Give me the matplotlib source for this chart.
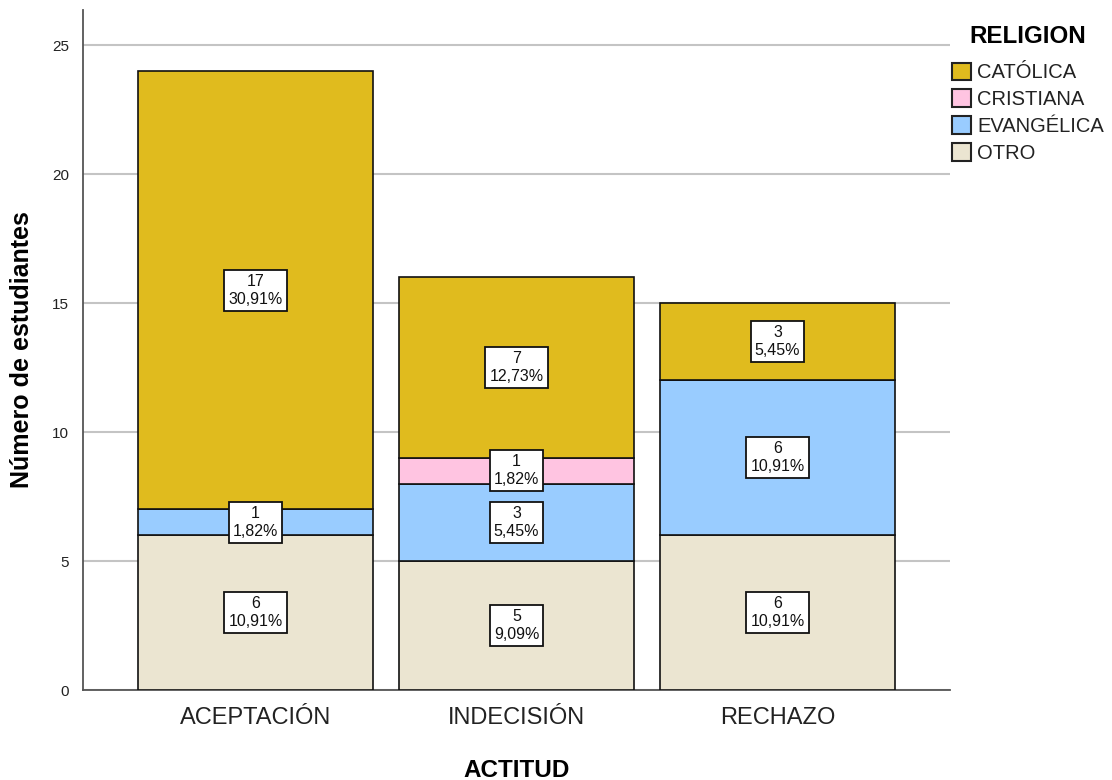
import matplotlib
matplotlib.use("Agg")
import matplotlib.pyplot as plt
from matplotlib.patches import Patch

plt.rcParams['font.family'] = ['Liberation Sans', 'DejaVu Sans']

categories = ["ACEPTACIÓN", "INDECISIÓN", "RECHAZO"]
series_names = ["OTRO", "EVANGÉLICA", "CRISTIANA", "CATÓLICA"]
otro = [6, 5, 6]
evangelica = [1, 3, 6]
cristiana = [0, 1, 0]
catolica = [17, 7, 3]
series_values = [otro, evangelica, cristiana, catolica]
colors = ["#EBE5D1", "#99CCFF", "#FFC4E1", "#E0BB1E"]
yticks = [0, 5, 10, 15, 20, 25]

total = sum(sum(s) for s in series_values)

fig = plt.figure(figsize=(11.12, 7.8), dpi=100)
ax = fig.add_axes([83/1112, 1-690/780, (950-83)/1112, (690-10)/780])

x = list(range(len(categories)))
bottom = [0]*len(categories)
handles = {}
for name, vals, col in zip(series_names, series_values, colors):
    ax.bar(x, vals, width=0.9, bottom=bottom, color=col,
           edgecolor="#111111", linewidth=1.2, zorder=3)
    handles[name] = Patch(facecolor=col, edgecolor="#222222", linewidth=1.5)
    for xi, v, b in zip(x, vals, bottom):
        if v > 0:
            pct = f"{100*v/total:.2f}".replace(".", ",")
            ax.text(xi, b + v/2, f"{v}\n{pct}%", ha="center", va="center",
                    fontsize=11.5, linespacing=1.25, zorder=5, color="#111111",
                    bbox=dict(boxstyle="square,pad=0.25", facecolor="white",
                              edgecolor="#111111", linewidth=1.3))
    bottom = [b + v for b, v in zip(bottom, vals)]

ax.set_xlim(-0.661, 2.661)
ax.set_ylim(0, 26.36)
ax.set_yticks(yticks)
ax.set_xticks(x)
ax.set_xticklabels(categories, fontsize=17, color="#222222")
ax.tick_params(axis="y", length=0, pad=10, labelsize=11, labelcolor="#222222")
ax.tick_params(axis="x", length=0, pad=12)
ax.yaxis.grid(True, color="#C4C4C4", linewidth=1.5, zorder=0)
ax.set_axisbelow(True)
for s in ["top", "right"]:
    ax.spines[s].set_visible(False)
for s in ["left", "bottom"]:
    ax.spines[s].set_color("#555555")
    ax.spines[s].set_linewidth(1.3)

ax.set_ylabel("Número de estudiantes", fontsize=18, fontweight="bold", labelpad=13)
ax.set_xlabel("ACTITUD", fontsize=17.5, fontweight="bold", labelpad=22)

order = ["CATÓLICA", "CRISTIANA", "EVANGÉLICA", "OTRO"]
leg = fig.legend([handles[n] for n in order], order, loc="upper left",
                 bbox_to_anchor=(952/1112, 1-25/780), frameon=False,
                 title="RELIGION", fontsize=14.5,
                 title_fontproperties={"weight": "bold", "size": 17.4},
                 handlelength=0.95, handleheight=0.95, handletextpad=0.3,
                 labelspacing=0.36, borderaxespad=0, borderpad=0)
leg._legend_box.sep = 10.5
for t in leg.get_texts():
    t.set_color("#222222")

fig.savefig("out.png", dpi=100)
